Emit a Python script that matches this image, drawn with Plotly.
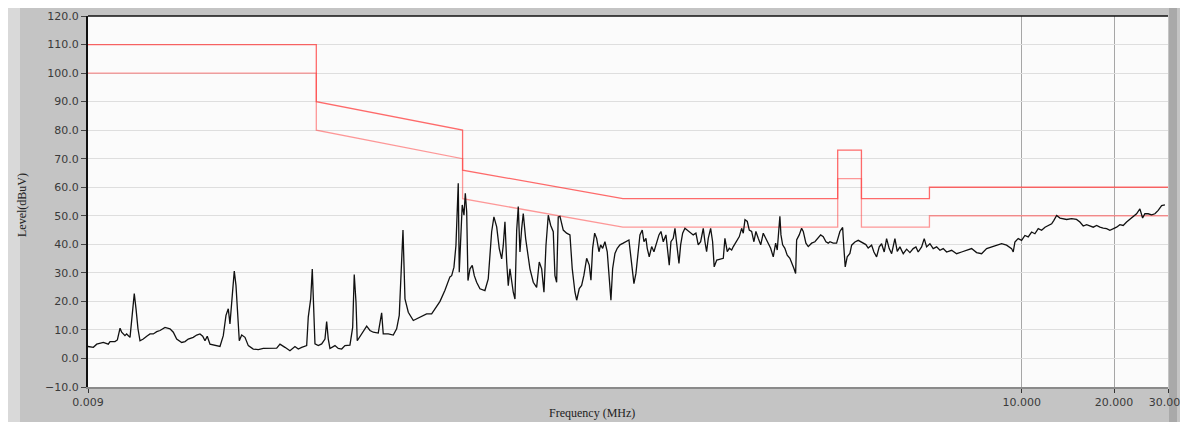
import numpy as np
import plotly.graph_objects as go

# ---- measured spectrum (frequency in MHz, level in dBuV), in segments ----
freq_a = [0.009, 0.00937, 0.00961, 0.0101, 0.01048, 0.01062, 0.01102, 0.01122, 0.01145, 0.01159,
          0.01188, 0.01203, 0.01234, 0.01255, 0.01274, 0.01291, 0.0131, 0.0133, 0.01363, 0.01399,
          0.01434, 0.0147, 0.01508, 0.01546, 0.01605, 0.01666, 0.01708, 0.01752, 0.01819, 0.01865,
          0.01911, 0.01984, 0.02036, 0.02087, 0.0213, 0.02167, 0.02204, 0.0225, 0.02336, 0.02425,
          0.02486, 0.02537, 0.02581, 0.02614, 0.0266, 0.027, 0.02735, 0.02762, 0.02804, 0.02855,
          0.02926, 0.03, 0.03114, 0.03234, 0.03357, 0.03713, 0.03806, 0.03951, 0.04102, 0.04259,
          0.04367]
level_a = [4.2, 3.9, 5.0, 5.6, 5.0, 5.9, 5.9, 6.5, 10.6, 9.2,
           8.0, 8.6, 7.4, 16.2, 22.7, 17.4, 10.4, 6.2, 6.8, 7.8,
           8.6, 8.6, 9.4, 9.8, 10.9, 10.4, 9.2, 6.8, 5.6, 5.9,
           6.8, 7.4, 8.2, 8.6, 7.8, 6.2, 7.8, 5.0, 4.7, 4.2,
           8.0, 15.1, 17.4, 12.1, 22.1, 30.6, 25.6, 18.6, 6.2, 8.2,
           7.4, 4.5, 3.3, 3.1, 3.5, 3.6, 5.0, 3.9, 2.7, 4.2,
           3.3]

freq_b = [0.0448, 0.04651, 0.04707, 0.04794, 0.04851, 0.04887, 0.0495, 0.05075, 0.05205, 0.05336,
          0.05404, 0.05471, 0.0554, 0.05752, 0.05897, 0.0605, 0.062, 0.06437, 0.0657, 0.06648,
          0.06736, 0.068, 0.07027, 0.07299, 0.07483, 0.07668, 0.07961, 0.08108, 0.08168, 0.08266,
          0.08585, 0.08913, 0.09141, 0.09322, 0.09444, 0.09587, 0.09732, 0.09977, 0.1036, 0.1089,
          0.1145, 0.1189, 0.1219, 0.1266, 0.1314, 0.1364]
level_b = [3.9, 4.5, 14.5, 20.9, 31.3, 18.6, 5.1, 4.5, 5.1, 6.8,
           12.9, 6.8, 3.5, 4.5, 3.5, 3.3, 4.5, 4.7, 10.9, 29.4,
           19.8, 6.2, 8.6, 11.3, 9.8, 9.2, 8.9, 13.9, 16.0, 8.6,
           8.6, 8.2, 10.4, 15.1, 29.2, 45.0, 20.9, 16.2, 13.3, 14.5,
           15.6, 15.6, 17.4, 20.0, 23.9, 28.6]

freq_c = [0.1382, 0.1406, 0.1427, 0.1441, 0.1452, 0.1463, 0.1482, 0.1496, 0.1516, 0.1531,
          0.1547, 0.1562, 0.1586, 0.1613, 0.1638, 0.1667, 0.1709, 0.1774, 0.1819, 0.1866,
          0.1898, 0.1938, 0.1976, 0.2012, 0.2036, 0.2062, 0.2089, 0.2114, 0.2141, 0.2169,
          0.2195, 0.2223, 0.2252, 0.2279, 0.2308, 0.2338, 0.2366, 0.2409, 0.2445, 0.2488,
          0.2551, 0.2616, 0.2668, 0.2717, 0.2764, 0.2806, 0.2855, 0.2906, 0.2964, 0.3002,
          0.304, 0.3077]
level_c = [29.0, 32.0, 39.6, 55.0, 61.4, 30.2, 43.2, 53.8, 50.2, 57.9,
           51.4, 27.3, 31.4, 32.6, 29.0, 26.7, 24.4, 23.8, 27.9, 44.4,
           49.6, 46.1, 38.5, 34.9, 39.6, 47.9, 33.8, 25.5, 31.4, 26.7,
           23.2, 20.8, 44.9, 53.2, 37.3, 45.5, 50.8, 42.0, 36.1, 31.4,
           26.7, 24.9, 33.8, 31.4, 23.2, 39.6, 50.2, 46.7, 44.4, 29.0,
           26.7, 49.6]

freq_d = [0.3117, 0.3195, 0.3277, 0.336, 0.3418, 0.3488, 0.3534, 0.3603, 0.3668, 0.3732,
          0.3809, 0.3884, 0.3934, 0.3984, 0.4045, 0.4106, 0.4178, 0.4231, 0.4295, 0.437,
          0.4446, 0.4537, 0.4571, 0.463, 0.4711, 0.4793, 0.4892, 0.5014, 0.5144, 0.5233,
          0.5301, 0.5381, 0.5433, 0.5515, 0.5611, 0.5684, 0.5783, 0.5857, 0.5946, 0.6004,
          0.6095, 0.6206, 0.6314, 0.6444, 0.6557, 0.6656, 0.6772, 0.691, 0.6998, 0.7083,
          0.7174, 0.7299, 0.7394, 0.7522, 0.7619, 0.7716, 0.7834, 0.797, 0.8169]
level_d = [49.8, 45.0, 43.9, 43.3, 31.5, 23.3, 20.4, 24.5, 25.6, 29.2,
           35.1, 32.7, 27.4, 38.6, 43.9, 42.1, 37.4, 39.8, 38.6, 40.9,
           37.4, 26.8, 20.4, 31.5, 36.8, 38.6, 39.8, 40.4, 40.9, 41.5,
           36.2, 30.4, 26.2, 29.8, 38.0, 43.3, 45.0, 40.9, 42.1, 38.6,
           35.6, 39.2, 37.4, 40.9, 43.3, 44.5, 40.9, 43.3, 38.6, 32.7,
           40.9, 42.1, 45.6, 39.2, 33.3, 39.8, 43.9, 45.6, 44.7]

freq_e = [0.8274, 0.8481, 0.8654, 0.8806, 0.8967, 0.9144, 0.9261, 0.9378, 0.9495, 0.9666,
          0.981, 0.9927, 1.012, 1.037, 1.063, 1.076, 1.095, 1.112, 1.132, 1.146,
          1.175, 1.199, 1.22, 1.235, 1.251, 1.273, 1.292, 1.315, 1.338, 1.358,
          1.382, 1.408, 1.435, 1.464, 1.49, 1.517, 1.547, 1.575, 1.594, 1.615,
          1.626, 1.639, 1.66, 1.688, 1.718, 1.753, 1.784, 1.807, 1.83, 1.844,
          1.88, 1.914, 1.938, 1.977, 2.012, 2.064, 2.115, 2.169, 2.209, 2.252,
          2.298, 2.338, 2.368, 2.427, 2.489, 2.552, 2.605, 2.63, 2.656, 2.696,
          2.751]
level_e = [44.5, 43.3, 43.9, 39.8, 40.9, 45.6, 40.9, 37.4, 42.1, 45.6,
           40.9, 32.1, 34.5, 34.8, 35.1, 42.1, 37.4, 38.6, 38.0, 39.2,
           40.9, 42.7, 45.6, 43.9, 48.6, 48.0, 45.0, 44.5, 40.9, 44.5,
           42.1, 39.8, 43.9, 42.1, 40.4, 38.6, 35.6, 40.4, 38.0, 44.5,
           49.8, 43.3, 39.8, 38.6, 36.2, 35.1, 33.3, 31.5, 29.8, 41.5,
           43.3, 45.6, 44.5, 40.4, 39.2, 40.4, 40.9, 42.1, 43.3, 42.7,
           40.9, 40.4, 40.9, 40.4, 40.4, 44.5, 45.9, 38.6, 32.1, 35.6,
           36.8]

freq_f = [2.787, 2.857, 2.929, 3.004, 3.102, 3.156, 3.238, 3.295, 3.362, 3.429,
          3.491, 3.56, 3.624, 3.696, 3.764, 3.858, 3.926, 4.006, 4.107, 4.213,
          4.318, 4.426, 4.517, 4.595, 4.714, 4.808, 4.894, 5.018, 5.144, 5.277,
          5.41, 5.545, 5.688, 5.906, 6.132, 6.366, 6.609, 6.863, 7.125, 7.398,
          7.682, 7.976, 8.281, 8.597, 8.925, 9.267, 9.381, 9.5, 9.738, 9.991,
          10.24, 10.5, 10.77, 11.04, 11.32, 11.61, 11.91, 12.2, 12.52, 12.73,
          13.0, 13.33, 13.65, 14.01, 14.54, 15.09, 15.48, 15.87, 16.28, 16.69,
          17.11, 17.55, 17.99, 18.44, 18.92, 19.39, 19.88, 20.39, 20.9, 21.43,
          21.98, 22.53, 23.09, 23.69, 24.29, 24.79, 25.22, 25.85, 26.52, 27.19,
          27.87, 28.6, 29.31]
level_f = [39.7, 40.8, 41.4, 40.8, 39.9, 38.7, 39.7, 37.3, 35.6, 39.1,
           40.2, 37.3, 42.0, 38.5, 36.7, 42.0, 37.5, 39.1, 36.7, 38.3,
           37.1, 38.5, 39.1, 37.3, 39.1, 42.0, 39.1, 40.2, 38.5, 39.1,
           37.9, 38.5, 37.3, 37.9, 36.7, 37.3, 37.9, 38.5, 37.1, 36.7,
           38.5, 39.1, 39.7, 40.2, 39.7, 38.5, 37.3, 40.8, 42.0, 41.4,
           43.1, 42.6, 44.3, 43.7, 45.5, 44.9, 46.0, 46.6, 47.2, 48.4,
           50.1, 49.2, 49.0, 48.7, 49.0, 48.7, 47.8, 46.4, 46.9, 46.4,
           46.0, 46.6, 46.0, 45.7, 45.5, 44.9, 45.5, 46.0, 46.9, 46.6,
           47.8, 48.7, 49.5, 50.7, 52.4, 49.2, 50.7, 50.7, 50.3, 50.7,
           51.9, 53.6, 53.8]

# ---- limit lines ----
qp_freq = [0.009, 0.05, 0.05, 0.15, 0.15, 0.5, 2.51, 2.51, 3.0, 3.0, 5.0, 5.0, 30.0]
qp_level = [110, 110, 90, 80, 66, 56, 56, 73, 73, 56, 56, 60, 60]
av_freq = [0.009, 0.05, 0.05, 0.15, 0.15, 0.5, 2.51, 2.51, 3.0, 3.0, 5.0, 5.0, 30.0]
av_level = [100, 100, 80, 70, 56, 46, 46, 63, 63, 46, 46, 50, 50]

x_tickvals = [0.009, 10, 20, 30]
x_ticktext = ["0.009", "10.000", "20.000", "30.000"]

freq = []
level = []
for fs, ls in [(freq_a, level_a), (freq_b, level_b), (freq_c, level_c),
               (freq_d, level_d), (freq_e, level_e), (freq_f, level_f)]:
    assert len(fs) == len(ls), (len(fs), len(ls))
    freq += fs
    level += ls

fig = go.Figure()
fig.add_trace(go.Scatter(x=qp_freq, y=qp_level, mode="lines",
                         line=dict(color="rgba(255,50,50,0.72)", width=1.3),
                         hoverinfo="skip", showlegend=False))
fig.add_trace(go.Scatter(x=av_freq, y=av_level, mode="lines",
                         line=dict(color="rgba(255,70,70,0.55)", width=1.3),
                         hoverinfo="skip", showlegend=False))
fig.add_trace(go.Scatter(x=freq, y=level, mode="lines",
                         line=dict(color="#111111", width=1.3),
                         showlegend=False))

# The page body adds an 8px margin, so the figure is laid out in page pixels minus 8.
OFF = 8
FW, FH = 1188 - OFF, 427 - OFF
L, R, T, B = 88 - OFF, 1168 - OFF, 16 - OFF, 387 - OFF   # plot-area edges in figure pixels
W, H = R - L, B - T

def px(x_page):
    return (x_page - OFF - L) / W

def py(y_page):
    return (B - (y_page - OFF)) / H

shapes = [
    # lighter left strip
    dict(type="rect", xref="paper", yref="paper", x0=px(8), x1=px(20), y0=py(8), y1=py(422),
         fillcolor="#d9d9d9", line_width=0, layer="below"),
    # white bottom strip
    dict(type="rect", xref="paper", yref="paper", x0=px(0), x1=px(1200), y0=py(422), y1=py(440),
         fillcolor="white", line_width=0, layer="below"),
    # darker right strip
    dict(type="rect", xref="paper", yref="paper", x0=px(1169), x1=px(1177), y0=py(8), y1=py(422),
         fillcolor="#a9a9a9", line_width=0, layer="below"),
    # top border of the plot
    dict(type="line", xref="paper", yref="paper", x0=0, x1=1, y0=1, y1=1,
         line=dict(color="#111111", width=1.5)),
]

fig.update_layout(
    width=FW, height=FH,
    margin=dict(l=L, r=FW - R, t=T, b=FH - B, autoexpand=False),
    paper_bgcolor="#c4c4c4",
    plot_bgcolor="#fbfbfb",
    shapes=shapes,
    showlegend=False,
    xaxis=dict(type="log", range=[np.log10(0.009), np.log10(30)],
               tickvals=x_tickvals, ticktext=x_ticktext,
               showgrid=True, gridcolor="#a6a6a6", gridwidth=1,
               ticks="outside", ticklen=4, tickcolor="#333333",
               showline=True, linecolor="#8a8a8a", linewidth=2,
               tickfont=dict(family="DejaVu Sans", size=11, color="#3a3a3a"),
               zeroline=False, fixedrange=True),
    yaxis=dict(range=[-10, 120], dtick=10, tick0=0, tickformat=".1f",
               showgrid=True, gridcolor="#dedede", gridwidth=1,
               ticks="outside", ticklen=5, tickcolor="#444444",
               showline=True, linecolor="#111111", linewidth=2,
               tickfont=dict(family="DejaVu Sans", size=11, color="#3a3a3a"),
               zeroline=False, fixedrange=True),
    annotations=[
        dict(text="Frequency (MHz)", xref="paper", yref="paper", x=px(592), y=py(413),
             showarrow=False, font=dict(family="Liberation Serif", size=12, color="#222222"),
             xanchor="center", yanchor="middle"),
        dict(text="Level(dBuV)", xref="paper", yref="paper", x=px(22), y=py(205),
             showarrow=False, textangle=-90,
             font=dict(family="Liberation Serif", size=12, color="#222222"),
             xanchor="center", yanchor="middle"),
    ],
)

fig.write_html("out.html")
